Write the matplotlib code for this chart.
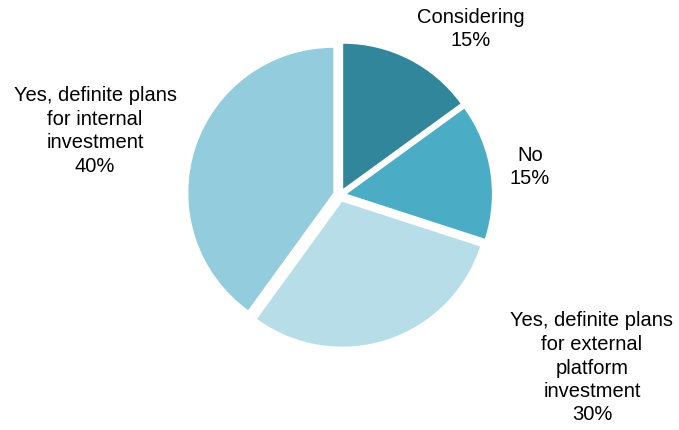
import matplotlib
matplotlib.use("Agg")
import matplotlib.pyplot as plt

categories = ["Considering", "No",
              "Yes, definite plans\nfor external\nplatform\ninvestment",
              "Yes, definite plans\nfor internal\ninvestment"]
values = [15, 15, 30, 40]
colors = ["#31869B", "#4BACC6", "#B7DEE8", "#93CDDD"]

W, H = 679, 430
fig = plt.figure(figsize=(W / 100, H / 100), dpi=100)
ax = fig.add_axes([0, 0, 1, 1])

cx, cy, r = 340, 235, 145
ax.pie(values, colors=colors, startangle=90, counterclock=False,
       center=(cx, cy), radius=r, explode=[7] * 4,
       wedgeprops=dict(linewidth=0), frame=True)
ax.set_xlim(0, W)
ax.set_ylim(0, H)
ax.axis("off")

label_pos = [(471, 401), (530, 263), (592, 62), (95, 299)]
for lab, v, (x, y) in zip(categories, values, label_pos):
    ax.text(x, y, f"{lab}\n{v}%", ha="center", va="center",
            fontsize=14.5, family="Liberation Sans", color="#000000",
            linespacing=1.3)

fig.savefig("out.png", dpi=100)
